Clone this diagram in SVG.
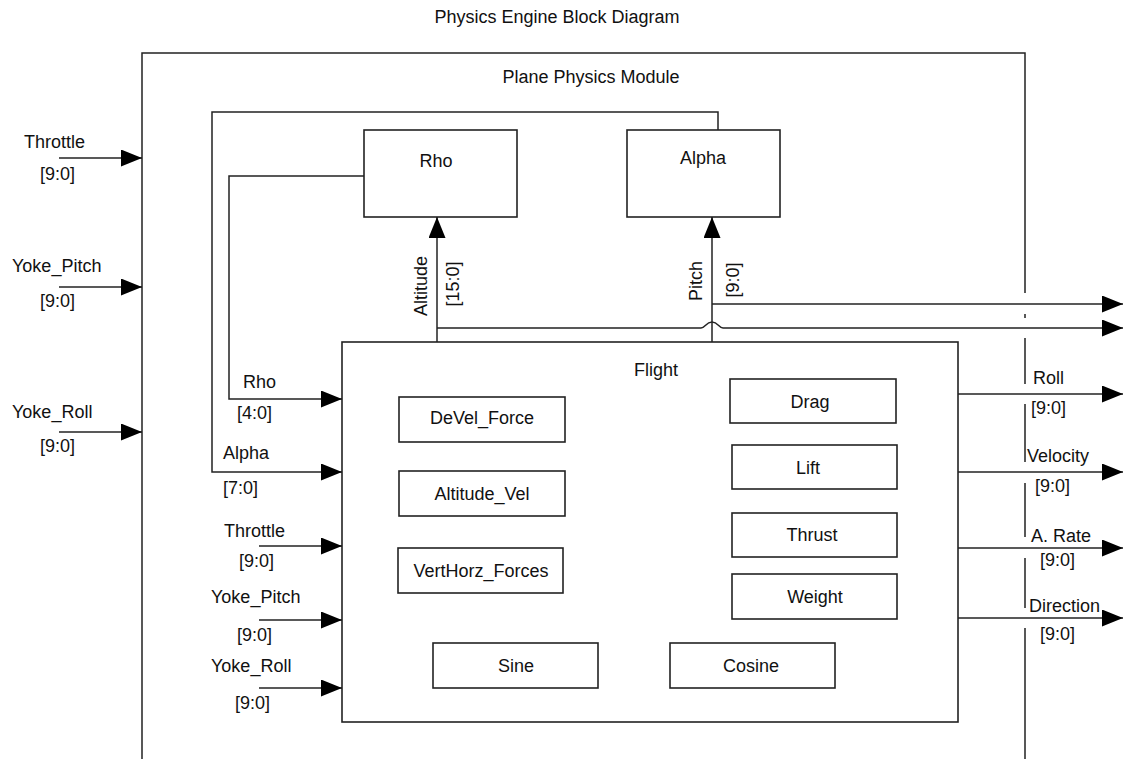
<svg xmlns="http://www.w3.org/2000/svg" width="1124" height="759" viewBox="0 0 1124 759">
<style>
text{font-family:"Liberation Sans",Arial,sans-serif;font-size:18px;fill:#111}
.c{text-anchor:middle}
.box{fill:#fff;stroke:#222;stroke-width:1.6}
.w{fill:none;stroke:#222;stroke-width:1.5}
.a{fill:none;stroke:#222;stroke-width:1.5;marker-end:url(#arr)}
</style>
<defs>
<marker id="arr" markerUnits="userSpaceOnUse" markerWidth="21" markerHeight="17" refX="21" refY="8.5" orient="auto">
<path d="M0,0 L21,8.5 L0,17 z" fill="#000"/>
</marker>
</defs>
<rect width="1124" height="759" fill="#fff"/>
<text class="c" x="557" y="23">Physics Engine Block Diagram</text>

<g id="plane_physics_module">
<path class="w" d="M142,759 V53 H1025 V293"/>
<path class="w" d="M1025,314 V318 M1025,338 V384 M1025,404 V462 M1025,483 V537 M1025,558 V608 M1025,628 V759"/>
<text class="c" x="591" y="83">Plane Physics Module</text>
</g>

<g id="rho">
<rect class="box" x="364" y="130" width="153" height="87"/>
<text class="c" x="436" y="167">Rho</text>
</g>
<g id="alpha">
<rect class="box" x="627" y="130" width="153" height="87"/>
<text class="c" x="703" y="164">Alpha</text>
</g>

<g id="flight">
<rect class="box" x="342" y="342" width="616" height="380"/>
<text class="c" x="656" y="376">Flight</text>
<g id="devel_force"><rect class="box" x="399" y="397" width="166" height="45"/><text class="c" x="482" y="424">DeVel_Force</text></g>
<g id="altitude_vel"><rect class="box" x="399" y="471" width="166" height="45"/><text class="c" x="482" y="500">Altitude_Vel</text></g>
<g id="verthorz_forces"><rect class="box" x="398" y="548" width="165" height="45"/><text class="c" x="481" y="577">VertHorz_Forces</text></g>
<g id="drag"><rect class="box" x="730" y="379" width="166" height="44"/><text class="c" x="810" y="408">Drag</text></g>
<g id="lift"><rect class="box" x="732" y="445" width="165" height="44"/><text class="c" x="808" y="474">Lift</text></g>
<g id="thrust"><rect class="box" x="732" y="513" width="165" height="44"/><text class="c" x="812" y="541">Thrust</text></g>
<g id="weight"><rect class="box" x="732" y="574" width="165" height="45"/><text class="c" x="815" y="603">Weight</text></g>
<g id="sine"><rect class="box" x="433" y="643" width="165" height="45"/><text class="c" x="516" y="672">Sine</text></g>
<g id="cosine"><rect class="box" x="670" y="643" width="165" height="45"/><text class="c" x="751" y="672">Cosine</text></g>
</g>

<g id="connectors">
<!-- outer inputs -->
<line class="a" x1="59" y1="158" x2="142" y2="158"/>
<line class="a" x1="59" y1="287" x2="142" y2="287"/>
<line class="a" x1="59" y1="432" x2="142" y2="432"/>
<!-- feedback -->
<path class="a" d="M364,176 H229 V399 H342"/>
<path class="a" d="M718,130 V112 H212 V472 H342"/>
<!-- flight inputs -->
<line class="a" x1="259" y1="546" x2="342" y2="546"/>
<line class="a" x1="259" y1="620" x2="342" y2="620"/>
<line class="a" x1="259" y1="688" x2="342" y2="688"/>
<!-- up to rho / alpha -->
<line class="a" x1="437" y1="342" x2="437" y2="217"/>
<line class="a" x1="712" y1="342" x2="712" y2="217"/>
<!-- right outputs -->
<line class="a" x1="712" y1="304" x2="1123" y2="304"/>
<path class="a" d="M437,328 H701 C705,328 706,322 712,322 C718,322 719,328 723,328 H1123"/>
<line class="a" x1="958" y1="394" x2="1123" y2="394"/>
<line class="a" x1="958" y1="472" x2="1123" y2="472"/>
<line class="a" x1="958" y1="548" x2="1123" y2="548"/>
<line class="a" x1="958" y1="618" x2="1123" y2="618"/>
</g>

<g id="labels">
<text x="24" y="148">Throttle</text><text x="40" y="180">[9:0]</text>
<text x="12" y="272">Yoke_Pitch</text><text x="40" y="307">[9:0]</text>
<text x="12" y="418">Yoke_Roll</text><text x="40" y="452">[9:0]</text>
<text x="243" y="388">Rho</text><text x="237" y="419">[4:0]</text>
<text x="223" y="459">Alpha</text><text x="223" y="494">[7:0]</text>
<text x="224" y="537">Throttle</text><text x="239" y="567">[9:0]</text>
<text x="211" y="603">Yoke_Pitch</text><text x="237" y="641">[9:0]</text>
<text x="211" y="672">Yoke_Roll</text><text x="235" y="709">[9:0]</text>
<text class="c" transform="translate(427,286) rotate(-90)">Altitude</text>
<text class="c" transform="translate(459,284) rotate(-90)">[15:0]</text>
<text class="c" transform="translate(702,281) rotate(-90)">Pitch</text>
<text class="c" transform="translate(739,280) rotate(-90)">[9:0]</text>
<text x="1033" y="384">Roll</text><text x="1031" y="414">[9:0]</text>
<text x="1027" y="462">Velocity</text><text x="1035" y="492">[9:0]</text>
<text x="1031" y="542">A. Rate</text><text x="1040" y="566">[9:0]</text>
<text x="1029" y="612">Direction</text><text x="1040" y="640">[9:0]</text>
</g>
</svg>
